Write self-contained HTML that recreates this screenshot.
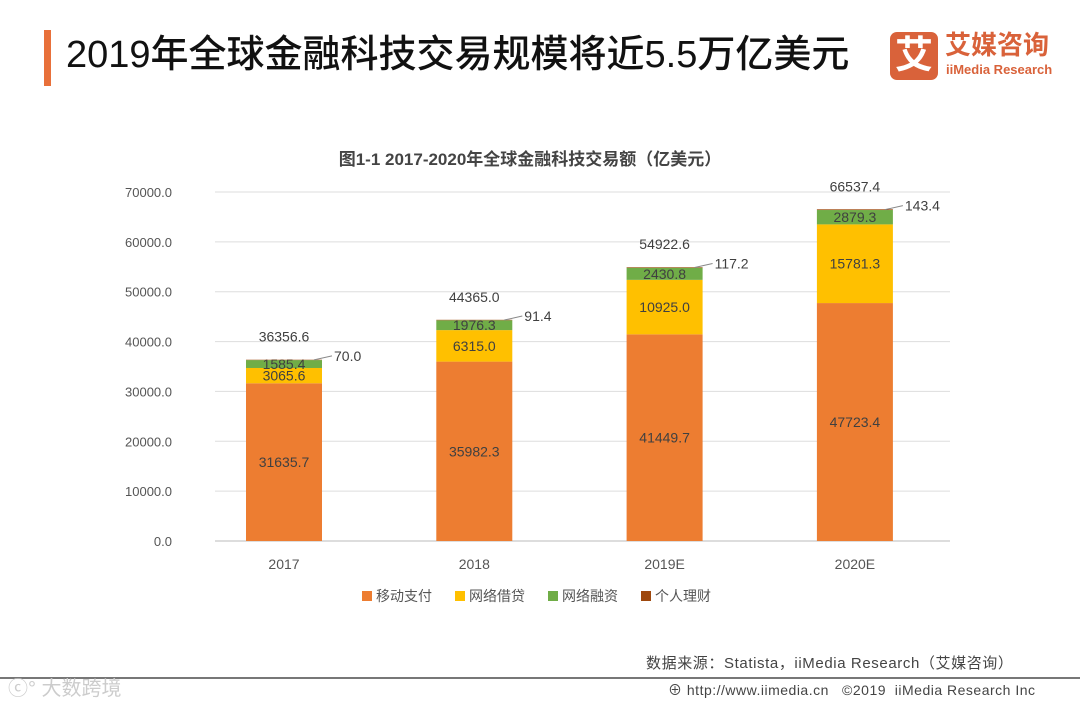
<!DOCTYPE html>
<html><head><meta charset="utf-8"><style>
body{margin:0;width:1080px;height:702px;background:#fff;overflow:hidden;font-family:"Liberation Sans","Noto Sans CJK SC",sans-serif;position:relative}
</style></head><body>
<div style="position:absolute;left:44px;top:30px;width:7px;height:56px;background:#E8703A"></div>
<div style="position:absolute;left:66px;top:29px;font-size:38px;color:#111;font-weight:500;line-height:52px">2019年全球金融科技交易规模将近5.5万亿美元</div>
<div style="position:absolute;left:890px;top:32px;width:48px;height:48px;background:#D9623A;border-radius:7px;color:#fff;font-size:38px;font-weight:bold;text-align:center;line-height:48px">艾</div>
<div style="position:absolute;left:945px;top:30px;color:#D9623A;font-size:26px;font-weight:bold;line-height:30px">艾媒咨询</div>
<div style="position:absolute;left:946px;top:62px;color:#D9623A;font-size:13px;font-weight:bold">iiMedia Research</div>
<svg id="chart" width="1080" height="702" style="position:absolute;left:0;top:0"></svg>
<div style="position:absolute;left:646px;top:652px;font-size:15px;letter-spacing:0.6px;color:#444">数据来源：Statista，iiMedia Research（艾媒咨询）</div>
<div style="position:absolute;left:0;top:677px;width:1080px;height:2px;background:#777"></div>
<div style="position:absolute;left:8px;top:672px;font-size:20px;color:#ccc">ⓒ° 大数跨境</div>
<div style="position:absolute;left:668px;top:680px;font-size:14px;letter-spacing:0.5px;color:#444">⊕ http://www.iimedia.cn &nbsp;&nbsp;©2019 &nbsp;iiMedia Research Inc</div>
<script>
const categories=["2017","2018","2019E","2020E"];
const mobilePay=[31635.7,35982.3,41449.7,47723.4];
const onlineLoan=[3065.6,6315.0,10925.0,15781.3];
const onlineFin=[1585.4,1976.3,2430.8,2879.3];
const personal=[70.0,91.4,117.2,143.4];
const totals=["36356.6","44365.0","54922.6","66537.4"];
const yTicks=[0,10000,20000,30000,40000,50000,60000,70000];
const svg=document.getElementById('chart');
const NS='http://www.w3.org/2000/svg';
const y=v=>541-v*349/70000;
const x=i=>284+i*190.3;
function mk(t,a,txt){const e=document.createElementNS(NS,t);for(const k in a)e.setAttribute(k,a[k]);if(txt!==undefined)e.textContent=txt;svg.appendChild(e);return e;}
let e=mk('text',{x:530,y:165,'text-anchor':'middle','font-size':17,'font-weight':'bold',fill:'#444'},'图1-1 2017-2020年全球金融科技交易额（亿美元）');

yTicks.forEach(t=>{
 e=mk('line',{x1:215,x2:950,y1:y(t),y2:y(t),stroke:t?'#ddd':'#bbb'});
 
 e=mk('text',{x:172,y:y(t)+5,'text-anchor':'end','font-size':13,fill:'#555'},t.toFixed(1));
 
});
const series=[[mobilePay,'#ED7D31'],[onlineLoan,'#FFC000'],[onlineFin,'#70AD47'],[personal,'#9E480E']];
categories.forEach((c,i)=>{
 let base=0;const cx=x(i);
 series.forEach(([arr,col],s)=>{
  const v=arr[i];
  e=mk('rect',{x:cx-38,y:y(base+v),width:76,height:y(base)-y(base+v),fill:col});
  
  if(s<3){e=mk('text',{x:cx,y:(y(base)+y(base+v))/2+5,'text-anchor':'middle','font-size':14,fill:'#404040'},v.toFixed(1));
   }
  else{
   const ty=y(base+v/2);
   e=mk('line',{x1:cx+30,y1:ty,x2:cx+48,y2:ty-4,stroke:'#888'});
   
   e=mk('text',{x:cx+50,y:ty+1,'font-size':14,fill:'#404040'},v.toFixed(1));
   }
  base+=v;
 });
 e=mk('text',{x:cx,y:y(base)-18,'text-anchor':'middle','font-size':14,fill:'#404040'},totals[i]);
 
 e=mk('text',{x:cx,y:569,'text-anchor':'middle','font-size':14,fill:'#555'},c);
 
});
const leg=['移动支付','网络借贷','网络融资','个人理财'];
leg.forEach((n,i)=>{const lx=362+i*93;
 e=mk('rect',{x:lx,y:591,width:10,height:10,fill:series[i][1]});
 
 e=mk('text',{x:lx+14,y:601,'font-size':14,fill:'#555'},n);
 
});
</script>
</body></html>
